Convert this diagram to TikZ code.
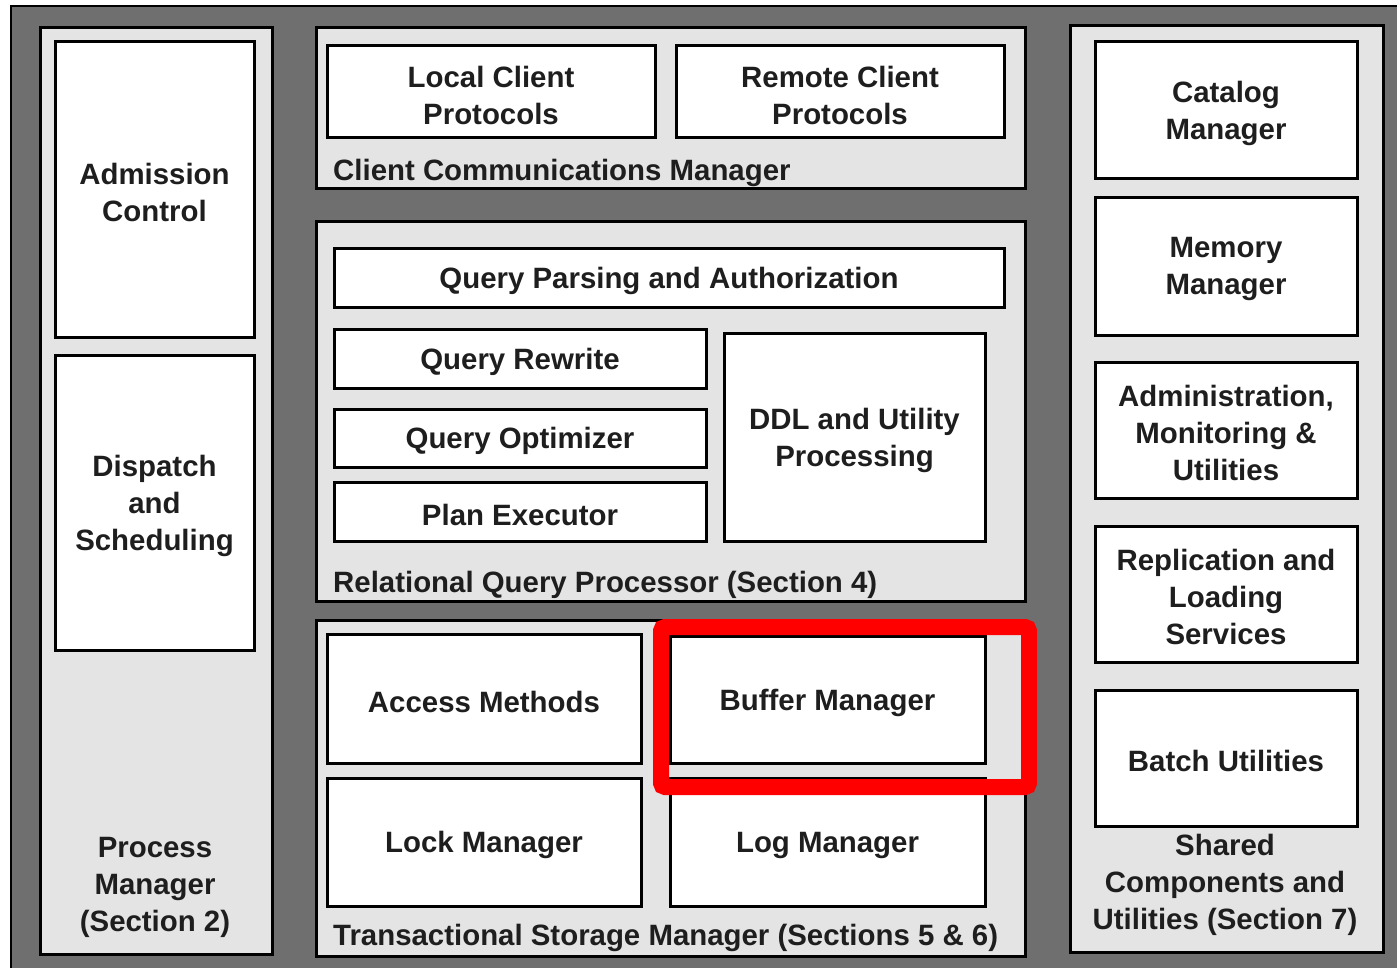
\documentclass[tikz,border=0pt]{standalone}
\usepackage{fontspec}
\setmainfont{Liberation Sans}
\definecolor{framegray}{HTML}{6F6F6F}
\definecolor{panelgray}{HTML}{E4E4E4}
\definecolor{inkgray}{HTML}{1E1E1E}
\definecolor{markred}{HTML}{FF0000}

% \blockat{name}{x1}{y1}{x2}{y2}{style}{text}: a frame spanning the given
% corners, with its text set slightly below the geometric centre
\newcommand\blockat[7]{%
  \node[#6, minimum width={(#4-#2)*1pt}, minimum height={(#5-#3)*1pt}]
    (#1) at ({(#2+#4)/2},{(#3+#5)/2}) {};
  \node[stackcap] (#1-text) at ([yshift=-3pt]#1.center) {#7};}

\begin{document}
\begin{tikzpicture}[x=1pt, y=-1pt,
  labelfont/.style={font=\fontsize{29.4}{37}\selectfont\bfseries, text=inkgray},
  panel/.style={draw=black, line width=3pt, fill=panelgray, inner sep=0pt},
  box/.style={draw=black, line width=3pt, fill=white, inner sep=0pt},
  caption/.style={labelfont, inner sep=0pt, anchor=west},
  stackcap/.style={labelfont, inner sep=0pt, align=center},
  highlight/.style={draw=markred, line width=16pt, rounded corners=4pt,
                    inner sep=0pt}]
\useasboundingbox (0,0) rectangle (1397,968);
\clip (0,0) rectangle (1397,968);

% outer frame
\fill[white] (0,0) rectangle (1397,968);
\draw[black, line width=2.5pt, fill=framegray] (11,6) rectangle (1420,990);

% process manager column
\blockat{procpanel}{40}{28}{272}{954}{panel}{}
\blockat{admission}{55}{42}{254}{337}{box}{Admission\\Control}
\blockat{dispatch}{55}{355}{254}{650}{box}{Dispatch\\and\\Scheduling}
\node[stackcap] (proclabel) at (155,887) {Process\\Manager\\(Section 2)};

% client communications manager
\blockat{ccmpanel}{316}{28}{1025}{189}{panel}{}
\blockat{localcp}{327}{46}{655}{138}{box}{Local Client\\Protocols}
\blockat{remotecp}{676}{46}{1004}{138}{box}{Remote Client\\Protocols}
\node[caption] (ccmlabel) at (333,173) {Client Communications Manager};

% relational query processor
\blockat{rqppanel}{316}{222}{1025}{601}{panel}{}
\blockat{parsing}{334}{249}{1004}{307}{box}{Query Parsing and Authorization}
\blockat{rewrite}{334}{329}{706}{388}{box}{Query Rewrite}
\blockat{optimizer}{334}{409}{706}{467}{box}{Query Optimizer}
\blockat{executor}{334}{482}{706}{541}{box}{Plan Executor}
\blockat{ddl}{724}{333}{985}{541}{box}{DDL and Utility\\Processing}
\node[caption] (rqplabel) at (333,585) {Relational Query Processor (Section 4)};

% transactional storage manager
\blockat{tsmpanel}{316}{620}{1025}{956}{panel}{}
\blockat{access}{327}{634}{641}{763}{box}{Access Methods}
\blockat{buffer}{670}{636}{985}{763}{box}{Buffer Manager}
\blockat{lock}{327}{778}{641}{906}{box}{Lock Manager}
\blockat{logm}{670}{778}{985}{906}{box}{Log Manager}
\node[caption] (tsmlabel) at (333,938) {Transactional Storage Manager (Sections 5 \& 6)};

% shared components and utilities
\blockat{sharedpanel}{1070}{26}{1383}{952}{panel}{}
\blockat{catalog}{1095}{42}{1357}{179}{box}{Catalog\\Manager}
\blockat{memory}{1095}{198}{1357}{335}{box}{Memory\\Manager}
\blockat{admin}{1095}{362}{1357}{498}{box}{Administration,\\Monitoring \&\\Utilities}
\blockat{replication}{1095}{526}{1357}{662}{box}{Replication and\\Loading\\Services}
\blockat{batch}{1095}{690}{1357}{826}{box}{Batch Utilities}
\node[stackcap] (sharedlabel) at (1225,885) {Shared\\Components and\\Utilities (Section 7)};

% highlight around the buffer manager
\blockat{bufmark}{661}{627}{1029}{787}{highlight}{}
\end{tikzpicture}
\end{document}
